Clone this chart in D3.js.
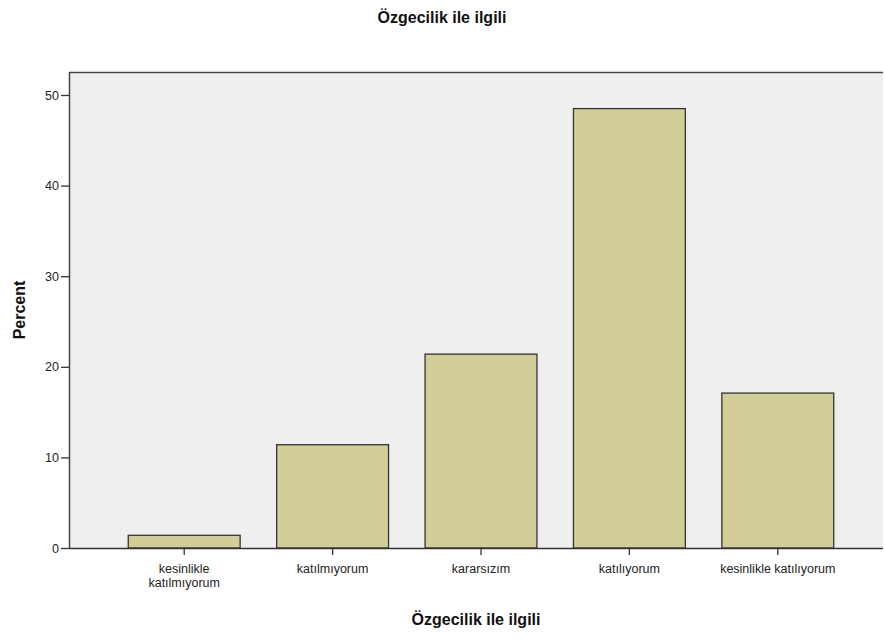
<!DOCTYPE html>
<html>
<head>
<meta charset="utf-8">
<script src="https://cdn.jsdelivr.net/npm/d3@7"></script>
<style>
  body { margin: 0; background: #fff; }
  svg { display: block; font-family: Arial, "Liberation Sans", sans-serif; }
</style>
</head>
<body>
<div id="chart"></div>
<script>
// bar chart data
const categories = ['kesinlikle katılmıyorum', 'katılmıyorum', 'kararsızım', 'katılıyorum', 'kesinlikle katılıyorum'];
const labelLines = [['kesinlikle', 'katılmıyorum'], ['katılmıyorum'], ['kararsızım'], ['katılıyorum'], ['kesinlikle katılıyorum']];
const percents = [1.4, 11.4, 21.4, 48.5, 17.1];
const yTicks = [0, 10, 20, 30, 40, 50];

const W = 885, H = 639;
const plot = { left: 69, right: 883, top: 72, bottom: 548 };

const svg = d3.select('#chart').append('svg')
    .attr('width', W)
    .attr('height', H);

const x = d3.scaleBand()
    .domain(categories)
    .range([110, 852])
    .padding(0);
const barW = x.bandwidth() * 0.754;

const y = d3.scaleLinear()
    .domain([0, 50])
    .range([plot.bottom, 95]);

// plot background
svg.append('rect')
    .attr('x', plot.left).attr('y', plot.top)
    .attr('width', plot.right - plot.left)
    .attr('height', plot.bottom - plot.top)
    .attr('fill', '#efefef')
    .attr('stroke', 'none');

// top frame line
svg.append('line')
    .attr('x1', plot.left).attr('x2', plot.right)
    .attr('y1', plot.top + 0.5).attr('y2', plot.top + 0.5)
    .attr('stroke', '#444').attr('stroke-width', 1.3);

// bars
svg.selectAll('rect.bar')
    .data(percents)
    .enter().append('rect')
    .attr('class', 'bar')
    .attr('x', (d, i) => x(categories[i]) + (x.bandwidth() - barW) / 2)
    .attr('y', d => y(d))
    .attr('width', barW)
    .attr('height', d => y(0) - y(d))
    .attr('fill', '#d3ce97')
    .attr('stroke', '#333')
    .attr('stroke-width', 1.3);

// y axis
const yAxis = svg.append('g')
    .attr('transform', `translate(${plot.left},0)`)
    .call(d3.axisLeft(y).tickValues(yTicks).tickSize(8).tickPadding(2));
yAxis.select('.domain').attr('stroke', '#444').attr('stroke-width', 1.5)
    .attr('d', `M0.5,${plot.top}V${plot.bottom}`);
yAxis.selectAll('.tick line').attr('stroke', '#333').attr('stroke-width', 1.3);
yAxis.selectAll('.tick text').attr('fill', '#222').style('font-size', '12.5px');

// x axis
const xAxis = svg.append('g')
    .attr('transform', `translate(0,${plot.bottom})`)
    .call(d3.axisBottom(x).tickSize(7).tickFormat(''));
xAxis.select('.domain').attr('stroke', '#333').attr('stroke-width', 1.3)
    .attr('d', `M${plot.left},0.5H${plot.right}`);
xAxis.selectAll('.tick line').attr('stroke', '#333').attr('stroke-width', 1.3);

xAxis.selectAll('.tick').each(function(d, i) {
    const t = d3.select(this).append('text')
        .attr('fill', '#222')
        .attr('text-anchor', 'middle')
        .style('font-size', '12.5px');
    labelLines[i].forEach((line, j) => {
        t.append('tspan').attr('x', 0).attr('y', 25 + j * 14).text(line);
    });
});

// titles
svg.append('text')
    .attr('x', 442).attr('y', 23)
    .attr('text-anchor', 'middle')
    .style('font-size', '16px').style('font-weight', 'bold')
    .attr('fill', '#111')
    .text('Özgecilik ile ilgili');

svg.append('text')
    .attr('x', 476).attr('y', 625)
    .attr('text-anchor', 'middle')
    .style('font-size', '16px').style('font-weight', 'bold')
    .attr('fill', '#111')
    .text('Özgecilik ile ilgili');

svg.append('text')
    .attr('transform', 'translate(25,310) rotate(-90)')
    .attr('text-anchor', 'middle')
    .style('font-size', '16px').style('font-weight', 'bold')
    .attr('fill', '#111')
    .text('Percent');
</script>
</body>
</html>
